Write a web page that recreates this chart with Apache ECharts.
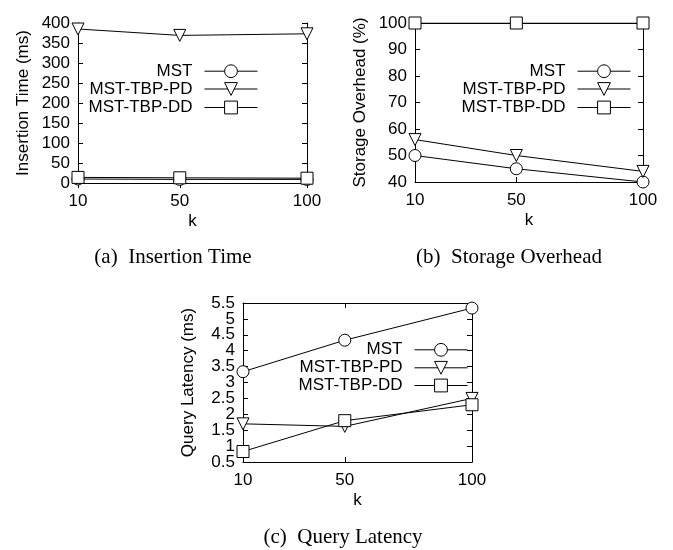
<!DOCTYPE html>
<html><head><meta charset="utf-8">
<script src="https://cdn.jsdelivr.net/npm/echarts@6/dist/echarts.min.js"></script>
<style>html,body{margin:0;padding:0;background:#fff}#c{width:673px;height:550px}</style>
</head><body><div id="c"></div><script>
// ---- data ----
const kValues = [10, 50, 100];
const xTicks = [10, 50, 100];
const seriesNames = ['MST', 'MST-TBP-PD', 'MST-TBP-DD'];
const insertMST = [10, 9, 9];
const insertPD = [385, 369, 373];
const insertDD = [14, 13, 12];
const storageMST = [50, 45, 40];
const storagePD = [56, 50, 44];
const storageDD = [100, 100, 100];
const queryMST = [3.34, 4.33, 5.34];
const queryPD = [1.70, 1.62, 2.50];
const queryDD = [0.83, 1.80, 2.30];
const yAxisTitles = ['Insertion Time (ms)', 'Storage Overhead (%)', 'Query Latency (ms)'];
const xAxisTitle = 'k';
const captions = ['(a)  Insertion Time', '(b)  Storage Overhead', '(c)  Query Latency'];
const yMins = [0, 40, 0.5];
const yMaxs = [400, 100, 5.5];
const yIntervals = [50, 10, 0.5];

// ---- layout ----
const panelData = [
  [insertMST, insertPD, insertDD],
  [storageMST, storagePD, storageDD],
  [queryMST, queryPD, queryDD]
];
const grids = [
  {left: 78, top: 23, width: 229, height: 160},
  {left: 415, top: 23, width: 228, height: 159},
  {left: 243, top: 303, width: 229, height: 159}
];
const legendRight = [673 - 258, 673 - 631, 673 - 468];
const legendRows = [[70.7, 88.5, 107], [70.7, 88.5, 107], [349.3, 367.3, 385]];
const captionPos = [[173, 257], [509, 257], [343, 537]];

const FONT = 'Liberation Sans, Arial, sans-serif';
const symbols = ['circle', 'triangle', 'rect'];
const symbolRot = [0, 180, 0];

const option = {
  backgroundColor: '#fff',
  animation: false,
  grid: grids.map(g => Object.assign({show: false}, g)),
  xAxis: [], yAxis: [], series: [], legend: [], graphic: []
};

const labelStyle = {fontSize: 17, fontFamily: FONT, color: '#000'};

for (let p = 0; p < 3; p++) {
  const axisLineStyle = {show: true, lineStyle: {color: '#000', width: 1}};
  option.xAxis.push({
    gridIndex: p, type: 'value', min: 10, max: 100, position: 'bottom',
    name: xAxisTitle, nameLocation: 'middle', nameGap: 30,
    nameTextStyle: labelStyle,
    axisLine: axisLineStyle, splitLine: {show: false},
    axisTick: {show: true, inside: true, length: 5, customValues: xTicks, lineStyle: {color: '#000'}},
    axisLabel: Object.assign({show: true, customValues: xTicks, margin: 10,
      showMinLabel: true, showMaxLabel: true}, labelStyle)
  });
  option.xAxis.push({
    gridIndex: p, type: 'value', min: 10, max: 100, position: 'top',
    axisLine: axisLineStyle, splitLine: {show: false},
    axisTick: {show: true, inside: true, length: 5, customValues: xTicks, lineStyle: {color: '#000'}},
    axisLabel: {show: false}
  });
  // main left axis (inner tick labels)
  option.yAxis.push({
    gridIndex: p, type: 'value', min: yMins[p], max: yMaxs[p], interval: yIntervals[p], position: 'left',
    name: yAxisTitles[p], nameLocation: 'middle', nameGap: 46, nameRotate: 90,
    nameTextStyle: labelStyle,
    axisLine: axisLineStyle, splitLine: {show: false},
    axisTick: {show: true, inside: true, length: 5, lineStyle: {color: '#000'}},
    axisLabel: Object.assign({margin: 8, showMinLabel: false, showMaxLabel: false}, labelStyle)
  });
  // mirror right axis
  option.yAxis.push({
    gridIndex: p, type: 'value', min: yMins[p], max: yMaxs[p], interval: yIntervals[p], position: 'right',
    axisLine: axisLineStyle, splitLine: {show: false},
    axisTick: {show: true, inside: true, length: 5, lineStyle: {color: '#000'}},
    axisLabel: {show: false}
  });
  // left axis carrying only the end labels (min / max)
  option.yAxis.push({
    gridIndex: p, type: 'value', min: yMins[p], max: yMaxs[p], position: 'left',
    axisLine: {show: false}, axisTick: {show: false}, splitLine: {show: false},
    axisLabel: Object.assign({margin: 8, customValues: [yMins[p], yMaxs[p]],
      showMinLabel: true, showMaxLabel: true}, labelStyle)
  });
  for (let s = 0; s < 3; s++) {
    option.series.push({
      type: 'line', name: seriesNames[s], xAxisIndex: 2 * p, yAxisIndex: 3 * p,
      data: kValues.map((k, j) => [k, panelData[p][s][j]]),
      symbol: symbols[s], symbolSize: 12, symbolRotate: symbolRot[s], showAllSymbol: true,
      itemStyle: {color: '#fff', borderColor: '#000', borderWidth: 1},
      lineStyle: {color: '#000', width: 1},
      emphasis: {disabled: true}, silent: true
    });
    option.legend.push({
      data: [seriesNames[s]], orient: 'vertical', align: 'right',
      right: legendRight[p], top: legendRows[p][s] - 8,
      itemWidth: 53, itemHeight: 16, padding: 0, selectedMode: false,
      itemStyle: {color: '#fff', borderColor: '#000', borderWidth: 1},
      lineStyle: {color: '#000', width: 1},
      textStyle: Object.assign({lineHeight: 16, padding: [0, 7, 0, 0]}, labelStyle)
    });
  }
  option.graphic.push({
    type: 'text', x: captionPos[p][0], y: captionPos[p][1],
    style: {text: captions[p], fill: '#000', font: '21px "Liberation Serif", "Times New Roman", serif',
      textAlign: 'center', textVerticalAlign: 'middle'}
  });
}

const chart = echarts.init(document.getElementById('c'), null, {renderer: 'canvas'});
chart.setOption(option);
</script></body></html>
